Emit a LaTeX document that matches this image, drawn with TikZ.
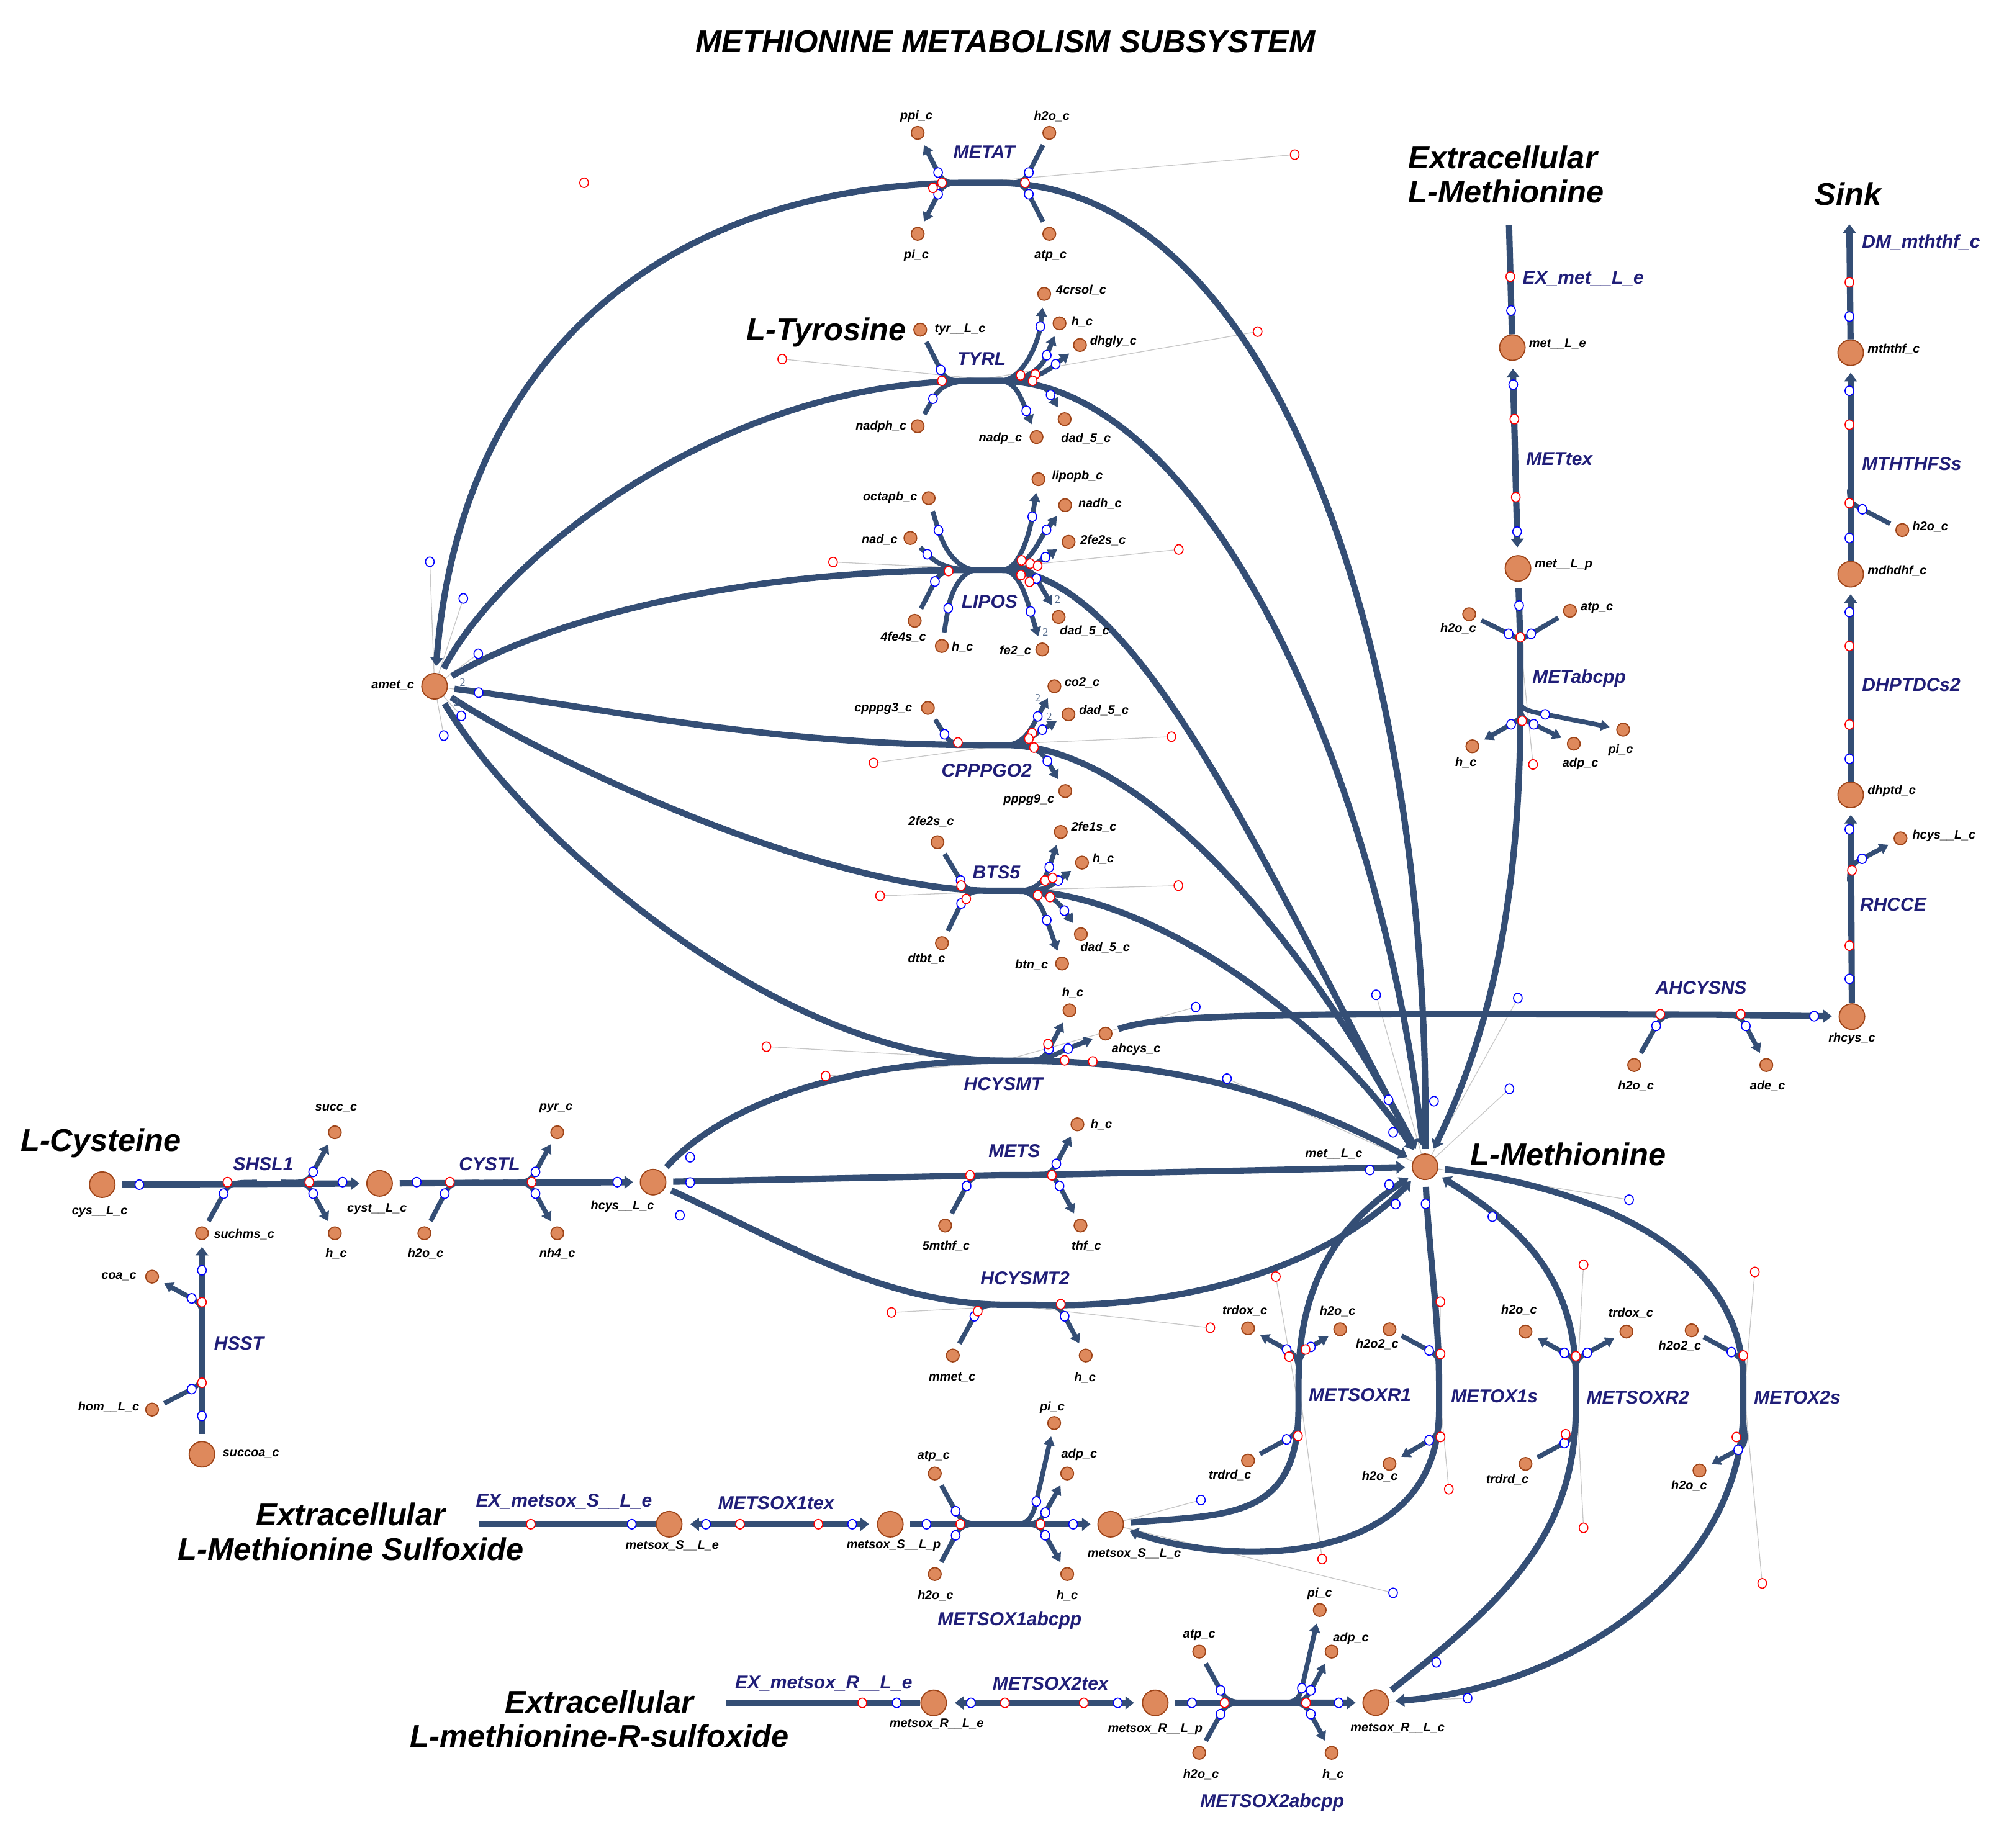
\documentclass[tikz,border=0pt]{standalone}
\usepackage{fontspec}
\setmainfont{Liberation Sans}
\newfontfamily\stoich{Liberation Serif}
\usetikzlibrary{arrows.meta,calc}
\definecolor{lnc}{RGB}{52,78,117}
\definecolor{rxc}{RGB}{32,30,120}
\definecolor{mfill}{RGB}{222,137,92}
\definecolor{mdraw}{RGB}{158,68,24}
\pgfdeclarelayer{bg}
\pgfsetlayers{bg,main}
\tikzset{
 mainl/.style={draw=lnc,line width=2.8pt},
 branch/.style={draw=lnc,line width=2.1pt,shorten >=3pt},
 arrm/.style={-{Triangle[length=3.8pt,width=5.6pt]},shorten >=3pt},
 arrd/.style={{Triangle[length=3.8pt,width=5.6pt]}-{Triangle[length=3.8pt,width=5.6pt]},shorten >=3.5pt,shorten <=3.5pt},
 arrb/.style={-{Triangle[length=4pt,width=4.8pt]}},
 mbig/.style={circle,fill=mfill,draw=mdraw,line width=0.5pt,minimum size=0.4cm,inner sep=0pt},
 msm/.style={circle,fill=mfill,draw=mdraw,line width=0.5pt,minimum size=0.2cm,inner sep=0pt},
 mlab/.style={font=\fontsize{5.5}{6}\selectfont\bfseries\itshape,inner sep=0pt},
 rlab/.style={font=\fontsize{8.3}{9}\selectfont\bfseries\itshape,text=rxc,inner sep=0pt},
 blab/.style={font=\fontsize{14}{15.4}\selectfont\bfseries\itshape,inner sep=0pt},
 bmk/.style={draw=blue,fill=white,line width=0.45pt},
 rmk/.style={draw=red,fill=white,line width=0.45pt},
 hline/.style={draw=black!22,line width=0.35pt},
 stl/.style={font=\fontsize{5}{5}\selectfont\stoich,text=lnc!85,inner sep=0pt},
}
\newcommand\brh[4][]{\draw[branch,#1] let \p1=#2,\p2=#3 in #2 .. controls ({\x1+0.6*(\x2-\x1)},\y1) and ($#3!-6pt!#4$) .. #3 -- #4;}
\newcommand\brv[4][]{\draw[branch,#1] let \p1=#2,\p2=#3 in #2 .. controls (\x1,{\y1+0.6*(\y2-\y1)}) and ($#3!-6pt!#4$) .. #3 -- #4;}
\newcommand\bmark[1]{\foreach \mk in {#1} \draw[bmk] \mk ellipse (0.068cm and 0.075cm);}
\newcommand\rmark[1]{\foreach \mk in {#1} \draw[rmk] \mk ellipse (0.068cm and 0.075cm);}
\newcommand\hl[2]{\draw[hline] #1 -- #2;}
\begin{document}
\begin{tikzpicture}[x=0.02cm,y=-0.02cm]
\useasboundingbox (0,0) rectangle (1568,1446);
% ---------- metabolites ----------
\node[mbig] (amet) at (340,537) {};
\node[mbig] (metLc) at (1115,913) {};
\node[mbig] (hcys) at (511,925) {};
\node[mbig] (cys) at (80,927) {};
\node[mbig] (cyst) at (297,926) {};
\node[msm] (suchms) at (158,965) {};
\node[mbig] (succoa) at (158,1138) {};
\node[msm] (coa) at (119,999) {};
\node[msm] (homL) at (119,1103) {};
\node[msm] (succ) at (262,886) {};
\node[msm] (hS) at (262,965) {};
\node[msm] (h2oC) at (332,965) {};
\node[msm] (pyr) at (436,886) {};
\node[msm] (nh4) at (436,965) {};
\node[mbig] (metLe) at (1183.3,272) {};
\node[mbig] (metLp) at (1187.7,444.8) {};
\node[mbig] (mththf) at (1448,276) {};
\node[mbig] (mdhdhf) at (1448,449.3) {};
\node[mbig] (dhptd) at (1448,622) {};
\node[mbig] (rhcys) at (1449,795.5) {};
\node[msm] (h2oM) at (1488.4,414.8) {};
\node[msm] (hcysR) at (1487,656) {};
\node[msm] (ahcys) at (865,808.8) {};
\node[msm] (hHC) at (836.8,790.6) {};
\node[msm] (h2oA) at (1278.6,833.4) {};
\node[msm] (ade) at (1382,833.4) {};
\node[msm] (ppi) at (718,104) {};
\node[msm] (h2oT) at (821,104) {};
\node[msm] (piT) at (718,183) {};
\node[msm] (atpT) at (821,183) {};
\node[msm] (tyr) at (720,258) {};
\node[msm] (nadph) at (718,333.5) {};
\node[msm] (crsol) at (817,230) {};
\node[msm] (hTY) at (829,253) {};
\node[msm] (dhgly) at (845,270) {};
\node[msm] (nadp) at (811,342) {};
\node[msm] (dadTY) at (833,328) {};
\node[msm] (octapb) at (726.6,389.8) {};
\node[msm] (nad) at (712.3,421) {};
\node[msm] (fefs) at (715.7,485.8) {};
\node[msm] (hLI) at (736.9,505.5) {};
\node[msm] (lipopb) at (812.5,375) {};
\node[msm] (nadh) at (833.4,395.3) {};
\node[msm] (fesLI) at (836.1,424) {};
\node[msm] (dadLI) at (828.3,482.8) {};
\node[msm] (fe2) at (815.5,508.2) {};
\node[msm] (cpppg3) at (726,554) {};
\node[msm] (co2) at (825,537) {};
\node[msm] (dadCP) at (836,559) {};
\node[msm] (pppg9) at (833.5,619) {};
\node[msm] (fesB) at (733.5,659) {};
\node[msm] (dtbt) at (737,738) {};
\node[msm] (fe1s) at (830,651) {};
\node[msm] (hBT) at (846.6,675) {};
\node[msm] (dadBT) at (845.7,731) {};
\node[msm] (btn) at (831,754) {};
\node[msm] (mthf) at (739.5,959) {};
\node[msm] (thf) at (845.4,959) {};
\node[msm] (hMS) at (843,879.8) {};
\node[msm] (mmet) at (745.5,1060.7) {};
\node[msm] (hH2) at (849.5,1060.7) {};
\node[msm] (h2oAB) at (1149.5,480.6) {};
\node[msm] (atpAB) at (1228.4,478) {};
\node[msm] (hAB) at (1152,584) {};
\node[msm] (adpAB) at (1231.4,582) {};
\node[msm] (piAB) at (1270,571) {};
\node[msm] (trdox1) at (976.5,1039.4) {};
\node[msm] (h2oR1) at (1048.6,1040.2) {};
\node[msm] (trdrd1) at (976.5,1142.9) {};
\node[msm] (h2o2a) at (1087.2,1040.2) {};
\node[msm] (h2oX1) at (1087.2,1145.5) {};
\node[msm] (h2oR2) at (1193.6,1042) {};
\node[msm] (trdox2) at (1272.5,1042) {};
\node[msm] (trdrd2) at (1193.6,1145.5) {};
\node[msm] (h2o2b) at (1323.6,1041) {};
\node[msm] (h2oX2) at (1329.7,1150.7) {};
\node[mbig] (metSe) at (523.6,1192.7) {};
\node[mbig] (metSp) at (696.6,1192.7) {};
\node[mbig] (metSc) at (869,1192.7) {};
\node[msm] (atpS) at (731.4,1153) {};
\node[msm] (h2oS) at (731.4,1231.7) {};
\node[msm] (piS) at (824.8,1113.5) {};
\node[msm] (adpS) at (835,1153) {};
\node[msm] (hSb) at (835,1231.7) {};
\node[mbig] (metRe) at (730.5,1332.5) {};
\node[mbig] (metRp) at (903.9,1332.5) {};
\node[mbig] (metRc) at (1076.4,1332.3) {};
\node[msm] (atpR) at (938.3,1292.4) {};
\node[msm] (h2oR) at (938.3,1371.6) {};
\node[msm] (piR) at (1032.6,1259.9) {};
\node[msm] (adpR) at (1041.9,1292.4) {};
\node[msm] (hR) at (1041.9,1371.6) {};
\coordinate (dmend) at (1447,175.5);
\coordinate (exMend) at (1180.7,176);
\coordinate (exSend) at (374.9,1192.7);
\coordinate (exRend) at (567.8,1332.5);
% ---------- lines ----------
\begin{pgfonlayer}{bg}
\hl{(457,143)}{(779,143)} \hl{(1013,121)}{(760,143)}
\hl{(612,281)}{(782,298)} \hl{(984,259.5)}{(762,298)}
\hl{(651.8,439.8)}{(784,446)} \hl{(922.3,430)}{(765,446)}
\hl{(683.5,597)}{(786,583)} \hl{(916.6,576.5)}{(768,583)}
\hl{(688.6,701)}{(796,697)} \hl{(922,693)}{(776.5,697)}
\hl{(599.7,819)}{(796,830)} \hl{(646,842)}{(796,830)} \hl{(935.6,788)}{(785,830)}
\hl{(697.5,1027)}{(808,1021)} \hl{(947,1039)}{(788,1021)}
\hl{(998.2,998.9)}{(1016,1101)} \hl{(1034.5,1220)}{(1016,1082)}
\hl{(1127,1018.6)}{(1126,1103)} \hl{(1133.6,1165.3)}{(1126,1085)}
\hl{(1239,989.7)}{(1233,1100)} \hl{(1239,1195.5)}{(1233,1080)}
\hl{(1373,995.3)}{(1364,1101)} \hl{(1378.8,1239)}{(1364,1081)}
\hl{(1199.5,598.2)}{(1190,506)}
\foreach \mk in {(336.3,439.6),(362.5,468.3),(374.2,511.6),(374.5,542),(360.9,560.2),(347.2,575.6)} \draw[hline] \mk -- (amet.center);
\foreach \mk in {(1076.7,778.5),(1187.6,781),(960,844),(1181,852),(1274.6,938.8)} \draw[hline] \mk -- (metLc.center);
\hl{(939.6,1173.8)}{(metSc.center)} \hl{(1090,1246.4)}{(metSc.center)}
\hl{(1148.3,1328.8)}{(metRc.center)}
% main curves amet -> met
\draw[mainl,arrm,shorten <=2pt] (metLc) .. controls (1120,520) and (1000,143) .. (779,143) -- (760,143) .. controls (520,143) and (360,280) .. (amet);
\draw[mainl,arrm,shorten <=3pt] (amet) .. controls (390,440) and (560,298) .. (762,298) -- (782,298) .. controls (940,298) and (1080,600) .. (metLc);
\draw[mainl,arrm,shorten <=3pt] (amet) .. controls (420,490) and (560,446) .. (765,446) -- (784,446) .. controls (890,446) and (990,680) .. (metLc);
\draw[mainl,arrm,shorten <=3pt] (amet) .. controls (480,555) and (600,583) .. (768,583) -- (786,583) .. controls (900,583) and (1030,750) .. (metLc);
\draw[mainl,arrm,shorten <=3pt] (amet) .. controls (420,590) and (640,697) .. (776.5,697) -- (796,697) .. controls (900,697) and (1040,800) .. (metLc);
\draw[mainl,arrm,shorten <=3pt] (amet) .. controls (400,640) and (600,830) .. (785,830) -- (796,830) .. controls (900,830) and (1000,850) .. (metLc);
\draw[mainl,shorten <=3pt] (hcys) .. controls (560,870) and (650,830) .. (785,830);
\draw[mainl,arrm,shorten <=3pt] (hcys) -- (784,919.5) -- (804,919.5) -- (metLc);
\draw[mainl,arrm,shorten <=3pt] (hcys) .. controls (610,970) and (690,1021) .. (788,1021) -- (808,1021) .. controls (930,1025) and (1040,990) .. (metLc);
\draw[mainl,arrm,shorten <=3pt] (ahcys) .. controls (910,793) and (1000,793) .. (1320,794) -- (1340,794) -- (rhcys);
% right column
\draw[mainl,arrm] (rhcys) -- (dhptd);
\draw[mainl,arrm] (dhptd) -- (mdhdhf);
\draw[mainl,arrm] (mdhdhf) -- (mththf);
\draw[mainl,-{Triangle[length=3.8pt,width=5.6pt]}] (mththf) -- (dmend);
\draw[mainl] (exMend) -- (metLe);
\draw[mainl,arrd] (metLe) -- (metLp);
\draw[mainl,arrm,shorten <=3pt] (metLp) -- (1189.6,506) -- (1189.6,550) .. controls (1190,720) and (1160,820) .. (metLc);
% sulfoxide reactions
\draw[mainl,arrm,shorten <=3pt] (metSc) .. controls (960,1185) and (1016,1190) .. (1016,1101) -- (1016,1082) .. controls (1016,990) and (1060,950) .. (metLc);
\draw[mainl,arrm,shorten <=3pt] (metLc) .. controls (1118,980) and (1126,1030) .. (1126,1085) -- (1126,1103) .. controls (1126,1230) and (960,1225) .. (metSc);
\draw[mainl,arrm,shorten <=3pt] (metRc) .. controls (1180,1250) and (1233,1200) .. (1233,1100) -- (1233,1080) .. controls (1233,1000) and (1190,960) .. (metLc);
\draw[mainl,arrm,shorten <=3pt] (metLc) .. controls (1250,930) and (1364,980) .. (1364,1081) -- (1364,1101) .. controls (1364,1230) and (1230,1320) .. (metRc);
% bottom rows
\draw[mainl] (exSend) -- (metSe);
\draw[mainl,arrd] (metSe) -- (metSp);
\draw[mainl,arrm,shorten <=3pt] (metSp) -- (metSc);
\draw[mainl] (exRend) -- (metRe);
\draw[mainl,arrd] (metRe) -- (metRp);
\draw[mainl,arrm,shorten <=3pt] (metRp) -- (metRc);
% left
\draw[mainl,arrm,shorten <=3pt] (cys) -- (cyst);
\draw[mainl,arrm,shorten <=3pt] (cyst) -- (hcys);
\draw[mainl,arrm,shorten <=3pt] (succoa) -- (suchms);
% ---------- branches ----------
\brh[arrb]{(760,143)}{(734,135)}{(ppi)}
\brh[arrb]{(760,143)}{(734,152)}{(piT)}
\brh{(779,143)}{(805,135)}{(h2oT)}
\brh{(779,143)}{(805,152)}{(atpT)}
\brh{(762,298)}{(736,289.5)}{(tyr)}
\brh{(762,298)}{(730,312)}{(nadph)}
\brh[arrb]{(782,298)}{(814,255.5)}{(crsol)}
\brh[arrb]{(782,298)}{(819,278)}{(hTY)}
\brh[arrb]{(782,298)}{(826,285)}{(dhgly)}
\brh[arrb]{(782,298)}{(822,309)}{(dadTY)}
\brh[arrb]{(782,298)}{(803,321.5)}{(nadp)}
\brh{(765,446)}{(734.3,415)}{(octapb)}
\brh{(765,446)}{(725.5,433.7)}{(nad)}
\brh{(765,446)}{(731.5,455)}{(fefs)}
\brh{(765,446)}{(741.9,475.9)}{(hLI)}
\brh[arrb]{(784,446)}{(807.7,404.3)}{(lipopb)}
\brh[arrb]{(784,446)}{(818.8,414.6)}{(nadh)}
\brh[arrb]{(784,446)}{(818,436)}{(fesLI)}
\brh[arrb]{(784,446)}{(811,452.7)}{(dadLI)}
\brh[arrb]{(784,446)}{(806.3,478.5)}{(fe2)}
\brh{(768,583)}{(739,574.6)}{(cpppg3)}
\brh[arrb]{(786,583)}{(812,560.6)}{(co2)}
\brh[arrb]{(786,583)}{(815.6,571)}{(dadCP)}
\brh[arrb]{(786,583)}{(819.5,595.5)}{(pppg9)}
\brh{(776.5,697)}{(751.6,689)}{(fesB)}
\brh{(776.5,697)}{(752,707)}{(dtbt)}
\brh[arrb]{(796,697)}{(821,678.6)}{(fe1s)}
\brh[arrb]{(796,697)}{(828,689)}{(hBT)}
\brh[arrb]{(796,697)}{(832.8,712.6)}{(dadBT)}
\brh[arrb]{(796,697)}{(819,720)}{(btn)}
\brh[arrb]{(796,830)}{(820.7,821)}{(hHC)}
\brh[arrb]{(796,830)}{(835.7,820.6)}{(ahcys)}
\brh{(784,919.5)}{(756.3,928)}{(mthf)}
\brh[arrb]{(804,919.5)}{(826.5,910.7)}{(hMS)}
\brh[arrb]{(804,919.5)}{(829,928)}{(thf)}
\brh{(788,1021)}{(762.4,1030)}{(mmet)}
\brh[arrb]{(808,1021)}{(833,1030)}{(hH2)}
\brh{(1320,794)}{(1295.8,802.8)}{(h2oA)}
\brh[arrb]{(1340,794)}{(1366,802.8)}{(ade)}
\brh{(201,925)}{(175,934)}{(suchms)}
\brh[arrb]{(220,925)}{(245,917)}{(succ)}
\brh[arrb]{(220,925)}{(245,934)}{(hS)}
\brh{(375,925)}{(348,934)}{(h2oC)}
\brh[arrb]{(394,925)}{(419,917)}{(pyr)}
\brh[arrb]{(394,925)}{(419,934)}{(nh4)}
\brv[arrb]{(158,1040)}{(150,1016)}{(coa)}
\brv{(158,1062)}{(150,1087)}{(homL)}
\brv{(1189.6,506)}{(1180.4,496)}{(h2oAB)}
\brv{(1189.6,506)}{(1198,496)}{(atpAB)}
\brv[arrb]{(1189.6,550)}{(1182.3,566.8)}{(hAB)}
\brv[arrb]{(1189.6,550)}{(1200,566.8)}{(adpAB)}
\brv[arrb]{(1189.6,550)}{(1209,559)}{(piAB)}
\brv{(1447,383)}{(1457.2,398.5)}{(h2oM)}
\brv[arrb]{(1447,690)}{(1457,672)}{(hcysR)}
\brv[arrb]{(1016,1082)}{(1006.7,1056)}{(trdox1)}
\brv[arrb]{(1016,1082)}{(1025.6,1054)}{(h2oR1)}
\brv{(1016,1101)}{(1006.7,1126.3)}{(trdrd1)}
\brv{(1126,1085)}{(1118.2,1056.8)}{(h2o2a)}
\brv[arrb]{(1126,1103)}{(1118.2,1127)}{(h2oX1)}
\brv[arrb]{(1233,1080)}{(1224,1058.6)}{(h2oR2)}
\brv[arrb]{(1233,1080)}{(1241.9,1058.6)}{(trdox2)}
\brv{(1233,1100)}{(1224,1129.2)}{(trdrd2)}
\brv{(1364,1081)}{(1354.7,1058)}{(h2o2b)}
\brv[arrb]{(1364,1101)}{(1360,1134.4)}{(h2oX2)}
\brh{(772.3,1192.7)}{(747.7,1182.5)}{(atpS)}
\brh{(772.3,1192.7)}{(747.7,1201.4)}{(h2oS)}
\brh[arrb]{(795.6,1192.7)}{(810.9,1174.9)}{(piS)}
\brh[arrb]{(795.6,1192.7)}{(817.8,1183.6)}{(adpS)}
\brh[arrb]{(795.6,1192.7)}{(817.8,1201.4)}{(hSb)}
\brh{(981.5,1332.5)}{(955,1322.7)}{(atpR)}
\brh{(981.5,1332.5)}{(955,1341.3)}{(h2oR)}
\brh[arrb]{(1000,1332.5)}{(1018.6,1321)}{(piR)}
\brh[arrb]{(1000,1332.5)}{(1025.6,1322.7)}{(adpR)}
\brh[arrb]{(1000,1332.5)}{(1025.6,1341.3)}{(hR)}
\end{pgfonlayer}
% ---------- markers ----------
\bmark{(734,135),(734,152),(805,135),(805,152),
(736,289.5),(730,312),(814,255.5),(819,278),(826,285),(822,309),(803,321.5),
(734.3,415),(725.5,433.7),(731.5,455),(741.9,475.9),(807.7,404.3),(818.8,414.6),(818,436),(811,452.7),(806.3,478.5),
(739,574.6),(812,560.6),(815.6,571),(819.5,595.5),
(751.6,689),(752,707),(821,678.6),(828,689),(832.8,712.6),(819,720),
(820.7,821),(835.7,820.6),(540,905.6),
(756.3,928),(826.5,910.7),(829,928),(540,925.3),(1071.8,915.6),
(762.4,1030),(833,1030),(532,951),
(1295.8,802.8),(1366,802.8),(1419.4,795.2),
(109,927),(175,934),(245,917),(245,934),(268,925),
(326,925),(348,934),(419,917),(419,934),(483,925),
(150,1016),(150,1087),(158,994),(158,1108),
(1182.3,243),(1184,301),(1187,416),(1188.6,473.8),(1180.4,496),(1198,496),(1182.3,566.8),(1200,566.8),(1209,559),
(1447,247.7),(1447,305.8),(1447,421),(1457.2,398.5),(1447,479),(1447,593.8),(1447,649),(1457,672),(1447,766),
(1006.7,1056),(1025.6,1054),(1006.7,1126.3),(1118.2,1056.8),(1118.2,1127),(1224,1058.6),(1241.9,1058.6),(1224,1129.2),(1354.7,1058),(1360,1134.4),
(1090,886),(1086.9,927),(1092,942.2),(1115.4,942),(1167.7,952),(1086.4,860.6),(1122,861.7),
(336.3,439.6),(362.5,468.3),(374.2,511.6),(374.5,542),(360.9,560.2),(347.2,575.6),
(1076.7,778.5),(1187.6,781),(960,844),(1181,852),(1274.6,938.8),(935.6,788),
(939.6,1173.8),(1090,1246.4),(1148.3,1328.8),(1123.8,1300.8),
(494.3,1192.7),(552.4,1192.7),(666.8,1192.7),(724.9,1192.7),(747.7,1182.5),(747.7,1201.4),(810.9,1174.9),(817.8,1183.6),(817.8,1201.4),(839.7,1192.7),
(701.6,1332.5),(759.7,1332.5),(874.6,1332.5),(932.6,1332.5),(955,1322.7),(955,1341.3),(1018.6,1321),(1025.6,1322.7),(1025.6,1341.3),(1047.5,1332.5)}
\rmark{(737,143),(730,147),(802,143),(457,143),(1013,121),
(737,298),(798.5,293.7),(810,293),(808,298),(612,281),(984,259.5),
(742.2,446.9),(799.3,438.5),(806,441),(811.9,442.7),(798.8,450),(805.5,455.3),(651.8,439.8),(922.3,430),
(749.5,581),(807.6,573.6),(805,578),(809,585),(916.6,576.5),(683.5,597),
(752,693),(756,703.4),(817.7,689),(823.6,687),(812,700.5),(821.6,702),(688.6,701),(922,693),
(820,817),(833,829.7),(855,830.6),(599.7,819),(646,842),
(759,919.7),(823,919.7),
(765,1026),(830,1020.6),(697.5,1027),(947,1039),
(1299,793.7),(1362,793.7),
(178,925),(242,925),(352,925),(416,925),(158,1019),(158,1082),
(1181.7,216.5),(1184.9,328),(1186,389),(1189.6,498.7),(1191,564),(1199.5,598.2),
(1447,220.9),(1447,332.3),(1447,393.7),(1447,505.5),(1447,567),(1449,681),(1447,740),
(1008.6,1061.6),(1021.5,1056),(1015.6,1123.6),(998.2,998.9),(1034.5,1220),
(1127.1,1059.4),(1127.1,1124.4),(1127,1018.6),(1133.6,1165.3),
(1233,1061.3),(1225,1122.3),(1239,989.7),(1239,1195.5),
(1364,1060.7),(1358.6,1124.5),(1373,995.3),(1378.8,1239),
(415.3,1192.7),(579,1192.7),(640.3,1192.7),(751.4,1192.7),(814.1,1192.7),
(674.7,1332.5),(786.3,1332.5),(848,1332.5),(958.2,1332.5),(1021.9,1332.5)}
% ---------- big labels ----------
\node[blab] (title) at (786.6,32.8) {METHIONINE METABOLISM SUBSYSTEM};
\node[blab] (tyrlab) at (646.5,260) {L-Tyrosine};
\node[blab,anchor=west,align=left] (exmetlab) at (1101.7,136.4) {Extracellular\\L-Methionine};
\node[blab] (sinklab) at (1446,151.6) {Sink};
\node[blab] (cyslab) at (79,894.6) {L-Cysteine};
\node[blab] (metlab) at (1227,903.3) {L-Methionine};
\node[blab,align=center] (sulflab) at (274.4,1198.4) {Extracellular\\L-Methionine Sulfoxide};
\node[blab,align=center] (rsulflab) at (469,1345) {Extracellular\\L-methionine-R-sulfoxide};
% ---------- reaction labels ----------
\node[rlab] (r1) at (770,119) {METAT};
\node[rlab] (r2) at (768,281) {TYRL};
\node[rlab] (r3) at (774.2,470.7) {LIPOS};
\node[rlab] (r4) at (772,603) {CPPPGO2};
\node[rlab] (r5) at (779.6,682.5) {BTS5};
\node[rlab] (r6) at (785,848.4) {HCYSMT};
\node[rlab] (r7) at (793.7,900.8) {METS};
\node[rlab] (r8) at (802,1000) {HCYSMT2};
\node[rlab] (r9) at (1331,773) {AHCYSNS};
\node[rlab] (r10) at (206,911) {SHSL1};
\node[rlab] (r11) at (383,911) {CYSTL};
\node[rlab] (r12) at (187,1051) {HSST};
\node[rlab,anchor=west] (r13) at (1023.6,1091.5) {METSOXR1};
\node[rlab,anchor=west] (r14) at (1135,1092.3) {METOX1s};
\node[rlab,anchor=west] (r15) at (1241,1093.5) {METSOXR2};
\node[rlab,anchor=west] (r16) at (1372,1093.5) {METOX2s};
\node[rlab] (r17) at (441.3,1174.9) {EX\_metsox\_S\_\_L\_e};
\node[rlab] (r18) at (607.2,1176) {METSOX1tex};
\node[rlab] (r19) at (790,1268) {METSOX1abcpp};
\node[rlab] (r20) at (644.5,1317.4) {EX\_metsox\_R\_\_L\_e};
\node[rlab] (r21) at (822,1317.4) {METSOX2tex};
\node[rlab] (r22) at (995.4,1410.6) {METSOX2abcpp};
\node[rlab,anchor=west] (r23) at (1191,218) {EX\_met\_\_L\_e};
\node[rlab,anchor=west] (r24) at (1193.8,359) {METtex};
\node[rlab,anchor=west] (r25) at (1198.6,530.7) {METabcpp};
\node[rlab,anchor=west] (r26) at (1456.6,189.9) {DM\_mththf\_c};
\node[rlab,anchor=west] (r27) at (1456.6,363) {MTHTHFSs};
\node[rlab,anchor=west] (r28) at (1456.6,535.8) {DHPTDCs2};
\node[rlab,anchor=west] (r29) at (1455,708) {RHCCE};
% ---------- metabolite labels ----------
\node[mlab] (t1) at (717,91) {ppi\_c};
\node[mlab] (t2) at (823,91) {h2o\_c};
\node[mlab] (t3) at (717,200) {pi\_c};
\node[mlab] (t4) at (822,200) {atp\_c};
\node[mlab,anchor=west] (t5) at (731,258) {tyr\_\_L\_c};
\node[mlab,anchor=west] (t6) at (826,227) {4crsol\_c};
\node[mlab,anchor=west] (t7) at (838,252) {h\_c};
\node[mlab,anchor=west] (t8) at (852.5,267.5) {dhgly\_c};
\node[mlab,anchor=east] (t9) at (709.6,334) {nadph\_c};
\node[mlab,anchor=east] (t10) at (800,343) {nadp\_c};
\node[mlab,anchor=west] (t11) at (830,343) {dad\_5\_c};
\node[mlab,anchor=east] (t12) at (718,389.3) {octapb\_c};
\node[mlab,anchor=east] (t13) at (702.6,422.3) {nad\_c};
\node[mlab] (t14) at (706.8,498.6) {4fe4s\_c};
\node[mlab,anchor=west] (t15) at (744.4,506.4) {h\_c};
\node[mlab,anchor=west] (t16) at (822.8,372.6) {lipopb\_c};
\node[mlab,anchor=west] (t17) at (843.4,394.3) {nadh\_c};
\node[mlab,anchor=west] (t18) at (845,423) {2fe2s\_c};
\node[mlab] (t19) at (848.7,494) {dad\_5\_c};
\node[mlab,anchor=east] (t20) at (807.2,509.5) {fe2\_c};
\node[mlab,anchor=east] (t21) at (714,554.5) {cpppg3\_c};
\node[mlab,anchor=west] (t22) at (832.6,534) {co2\_c};
\node[mlab,anchor=west] (t23) at (844,556) {dad\_5\_c};
\node[mlab] (t24) at (805,626) {pppg9\_c};
\node[mlab] (t25) at (728.6,643) {2fe2s\_c};
\node[mlab] (t26) at (725,750) {dtbt\_c};
\node[mlab,anchor=west] (t27) at (837.8,647.5) {2fe1s\_c};
\node[mlab,anchor=west] (t28) at (854.5,672) {h\_c};
\node[mlab,anchor=west] (t29) at (845,741.7) {dad\_5\_c};
\node[mlab,anchor=east] (t30) at (820.4,755) {btn\_c};
\node[mlab,anchor=east] (t31) at (324.3,536.5) {amet\_c};
\node[mlab] (t32) at (839.4,777) {h\_c};
\node[mlab] (t33) at (889,821) {ahcys\_c};
\node[mlab] (t34) at (740.3,975) {5mthf\_c};
\node[mlab] (t35) at (850,975) {thf\_c};
\node[mlab,anchor=west] (t36) at (853,880) {h\_c};
\node[mlab] (t37) at (1043.6,903) {met\_\_L\_c};
\node[mlab] (t38) at (745,1078) {mmet\_c};
\node[mlab] (t39) at (849,1078) {h\_c};
\node[mlab] (t40) at (1280,850) {h2o\_c};
\node[mlab] (t41) at (1383,850) {ade\_c};
\node[mlab] (t42) at (1449,813) {rhcys\_c};
\node[mlab,anchor=west] (t43) at (1196,269) {met\_\_L\_e};
\node[mlab,anchor=west] (t44) at (1200.5,442) {met\_\_L\_p};
\node[mlab,anchor=west] (t45) at (1461,273.4) {mththf\_c};
\node[mlab,anchor=west] (t46) at (1496,412.4) {h2o\_c};
\node[mlab,anchor=west] (t47) at (1461,446.5) {mdhdhf\_c};
\node[mlab,anchor=west] (t48) at (1461,619) {dhptd\_c};
\node[mlab,anchor=west] (t49) at (1496,654) {hcys\_\_L\_c};
\node[mlab] (t50) at (1141,492) {h2o\_c};
\node[mlab,anchor=west] (t51) at (1236.5,475.6) {atp\_c};
\node[mlab] (t52) at (1147,596.5) {h\_c};
\node[mlab] (t53) at (1236.5,597.5) {adp\_c};
\node[mlab] (t54) at (1268,587) {pi\_c};
\node[mlab] (t55) at (78,948) {cys\_\_L\_c};
\node[mlab,anchor=west] (t56) at (167,966) {suchms\_c};
\node[mlab] (t57) at (263,867) {succ\_c};
\node[mlab] (t58) at (263,981) {h\_c};
\node[mlab] (t59) at (295,946) {cyst\_\_L\_c};
\node[mlab] (t60) at (333,981) {h2o\_c};
\node[mlab] (t61) at (435,867) {pyr\_c};
\node[mlab] (t62) at (436,981) {nh4\_c};
\node[mlab] (t63) at (487,944) {hcys\_\_L\_c};
\node[mlab] (t64) at (93,999) {coa\_c};
\node[mlab] (t65) at (85,1101) {hom\_\_L\_c};
\node[mlab,anchor=west] (t66) at (174,1138) {succoa\_c};
\node[mlab] (t67) at (974,1025.7) {trdox\_c};
\node[mlab] (t68) at (1046.6,1026) {h2o\_c};
\node[mlab] (t69) at (962.4,1154.6) {trdrd\_c};
\node[mlab] (t70) at (1077.6,1052) {h2o2\_c};
\node[mlab] (t71) at (1079.6,1155.5) {h2o\_c};
\node[mlab] (t72) at (1188.6,1025) {h2o\_c};
\node[mlab] (t73) at (1276,1027.5) {trdox\_c};
\node[mlab] (t74) at (1179.4,1158) {trdrd\_c};
\node[mlab] (t75) at (1314.4,1053.4) {h2o2\_c};
\node[mlab] (t76) at (1321.7,1162.6) {h2o\_c};
\node[mlab] (t77) at (526,1209.3) {metsox\_S\_\_L\_e};
\node[mlab] (t78) at (699.3,1209.3) {metsox\_S\_\_L\_p};
\node[mlab] (t79) at (887.5,1215.9) {metsox\_S\_\_L\_c};
\node[mlab] (t80) at (730.5,1139.6) {atp\_c};
\node[mlab] (t81) at (731.9,1248.6) {h2o\_c};
\node[mlab] (t82) at (823.3,1101.2) {pi\_c};
\node[mlab] (t83) at (844.4,1138.5) {adp\_c};
\node[mlab] (t84) at (835,1248.6) {h\_c};
\node[mlab] (t85) at (732.8,1348.8) {metsox\_R\_\_L\_e};
\node[mlab] (t86) at (903.9,1353.2) {metsox\_R\_\_L\_p};
\node[mlab] (t87) at (1093.5,1352.3) {metsox\_R\_\_L\_c};
\node[mlab] (t88) at (938.3,1279.4) {atp\_c};
\node[mlab] (t89) at (939.7,1388.3) {h2o\_c};
\node[mlab] (t90) at (1032.6,1247.3) {pi\_c};
\node[mlab] (t91) at (1057,1282) {adp\_c};
\node[mlab] (t92) at (1043,1388.3) {h\_c};
% stoichiometry
\node[stl] (s1) at (827.5,469) {2};
\node[stl] (s2) at (818,494.5) {2};
\node[stl] (s3) at (812,546) {2};
\node[stl] (s4) at (821,561) {2};
\node[stl] (s5) at (362,534) {2};
\node[stl] (s6) at (357,549.7) {2};
\end{tikzpicture}
\end{document}
